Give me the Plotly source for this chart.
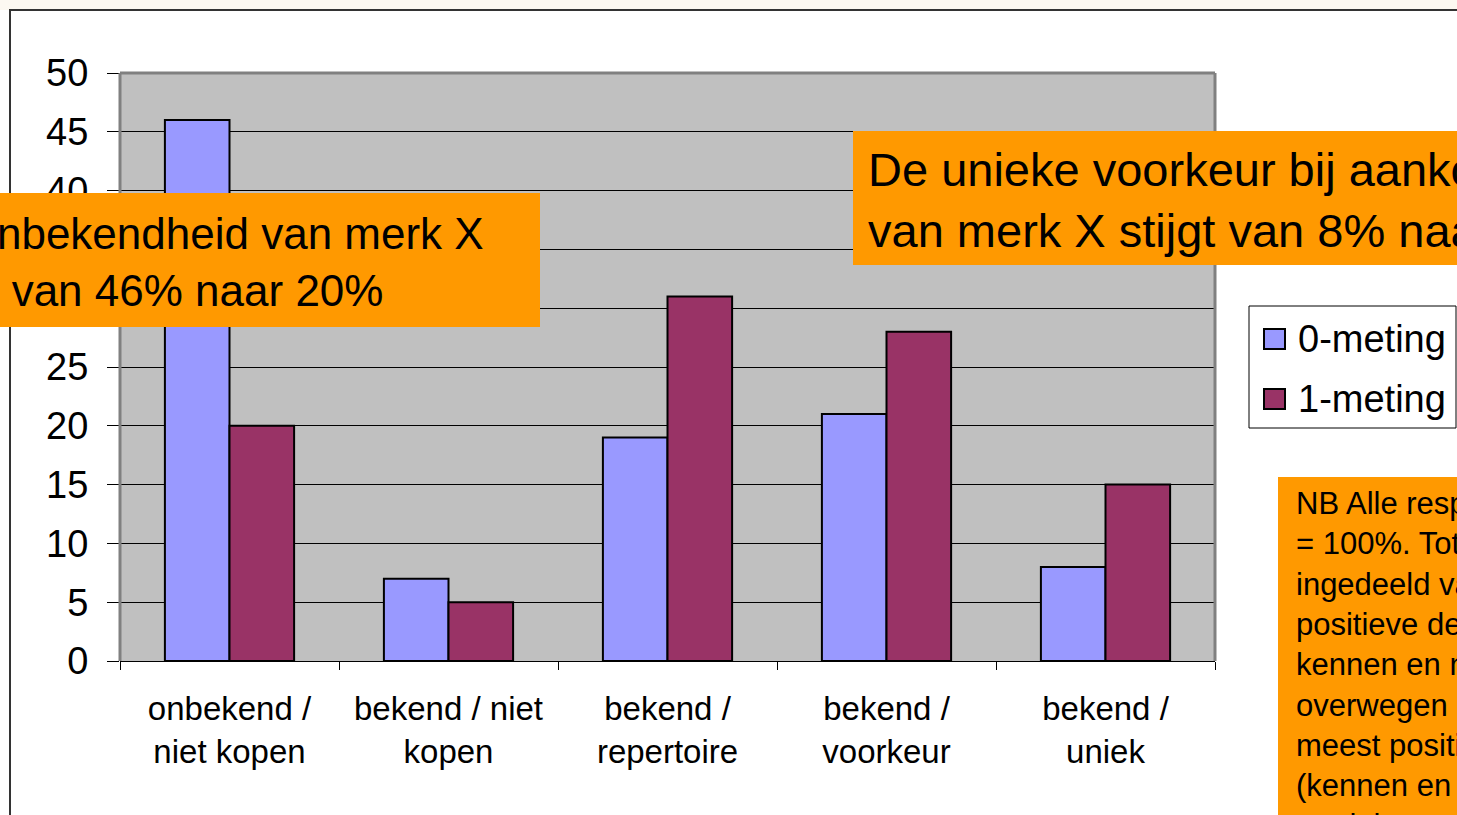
import plotly.graph_objects as go

categories = ["onbekend /<br>niet kopen", "bekend / niet<br>kopen", "bekend /<br>repertoire",
              "bekend /<br>voorkeur", "bekend /<br>uniek"]
meting0 = [46, 7, 19, 21, 8]
meting1 = [20, 5, 31, 28, 15]
series_names = ["0-meting", "1-meting"]
series_colors = ["#9999FF", "#993366"]
y_ticks = [0, 5, 10, 15, 20, 25, 30, 35, 40, 45, 50]

box_left_text = "De onbekendheid van merk X<br>daalt van 46% naar 20%"
box_right_text = "De unieke voorkeur bij aankoop<br>van merk X stijgt van 8% naar 15%"
nb_text = ("NB Alle respondenten<br>= 100%. Totaal<br>ingedeeld van minst<br>positieve deel (niet<br>"
           "kennen en niet kopen)<br>overwegen naar het<br>meest positieve deel<br>(kennen en uniek<br>merk kopen)")

W, H = 1457, 815
# plot area in screen pixels
L, R, T, B = 120, 1215, 73, 661
FONT = "Liberation Sans, Arial, sans-serif"


def px(x):
    return (x - L) / (R - L)


def py(y):
    return (B - y) / (B - T)


fig = go.Figure()
for name, vals, col in zip(series_names, [meting0, meting1], series_colors):
    fig.add_trace(go.Bar(x=categories, y=vals, name=name, showlegend=False,
                         marker=dict(color=col, line=dict(color="black", width=2))))

shapes = [
    # outer strips (slightly off-white) and frame
    dict(type="rect", xref="paper", yref="paper", x0=px(-5), x1=px(1500), y0=py(10), y1=py(-5),
         line=dict(width=0), fillcolor="#FCF8F1", layer="below"),
    dict(type="rect", xref="paper", yref="paper", x0=px(10), x1=px(1490), y0=py(840), y1=py(10),
         line=dict(color="#333333", width=2), fillcolor="rgba(0,0,0,0)", layer="above"),
    # plot border (gray)
    dict(type="line", xref="paper", yref="paper", x0=px(L), x1=px(R), y0=py(T), y1=py(T),
         line=dict(color="#808080", width=3), layer="above"),
    dict(type="line", xref="paper", yref="paper", x0=px(R), x1=px(R), y0=py(T), y1=py(B),
         line=dict(color="#808080", width=3), layer="above"),
    dict(type="line", xref="paper", yref="paper", x0=px(L), x1=px(L), y0=py(T), y1=py(B),
         line=dict(color="#808080", width=3), layer="above"),
    # orange boxes
    dict(type="rect", xref="paper", yref="paper", x0=px(-150), x1=px(540), y0=py(327), y1=py(193),
         line=dict(width=0), fillcolor="#FF9900", layer="above"),
    dict(type="rect", xref="paper", yref="paper", x0=px(853), x1=px(1500), y0=py(265), y1=py(131),
         line=dict(width=0), fillcolor="#FF9900", layer="above"),
    dict(type="rect", xref="paper", yref="paper", x0=px(1278), x1=px(1500), y0=py(900), y1=py(477),
         line=dict(width=0), fillcolor="#FF9900", layer="above"),
    # legend box
    dict(type="rect", xref="paper", yref="paper", x0=px(1249), x1=px(1456), y0=py(428), y1=py(306),
         line=dict(color="black", width=1), fillcolor="white", layer="above"),
]

annotations = [
    dict(text=box_left_text, xref="paper", yref="paper", x=px(-98), y=py(262),
         xanchor="left", yanchor="middle", align="left", showarrow=False,
         font=dict(family=FONT, size=44, color="black")),
    dict(text=box_right_text, xref="paper", yref="paper", x=px(866), y=py(200),
         xanchor="left", yanchor="middle", align="left", showarrow=False,
         font=dict(family=FONT, size=47, color="black")),
    dict(text=nb_text, xref="paper", yref="paper", x=px(1294), y=py(664),
         xanchor="left", yanchor="middle", align="left", showarrow=False,
         font=dict(family=FONT, size=31, color="black")),
]

# legend items (custom, to match the reference symbol size)
for i, (name, col) in enumerate(zip(series_names, series_colors)):
    cy = 339 + 60 * i
    shapes.append(dict(type="rect", xref="paper", yref="paper", x0=px(1264), x1=px(1285),
                       y0=py(cy + 10), y1=py(cy - 10), fillcolor=col,
                       line=dict(color="black", width=2), layer="above"))
    annotations.append(dict(text=name, xref="paper", yref="paper", x=px(1296), y=py(cy),
                            xanchor="left", yanchor="middle", showarrow=False,
                            font=dict(family=FONT, size=38, color="black")))

fig.update_layout(
    width=W, height=H,
    margin=dict(l=L, r=W - R, t=T, b=H - B, pad=0),
    paper_bgcolor="white",
    plot_bgcolor="#C0C0C0",
    barmode="group",
    bargap=0.41,
    bargroupgap=0,
    font=dict(family=FONT, color="black"),
    showlegend=False,
    shapes=shapes,
    annotations=annotations,
)
fig.update_yaxes(range=[0, 50], tickvals=y_ticks, showgrid=True, gridcolor="black", gridwidth=1,
                 ticks="outside", ticklen=12, tickcolor="black", showline=False,
                 tickfont=dict(family=FONT, size=38, color="black"), ticklabelstandoff=11,
                 zeroline=False, fixedrange=True)
fig.update_xaxes(showline=True, linecolor="black", linewidth=1, ticks="outside", tickson="boundaries",
                 ticklen=8, tickcolor="black", tickfont=dict(family=FONT, size=33, color="black"),
                 ticklabelstandoff=18, fixedrange=True)

fig.write_html("out.html", config={"displayModeBar": False, "staticPlot": True},
               post_script="document.body.style.margin='0';document.body.style.overflow='hidden';")
